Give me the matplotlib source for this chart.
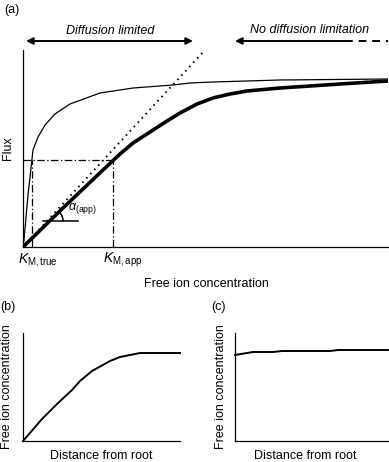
import matplotlib
matplotlib.use('Agg')
import matplotlib.pyplot as plt
from matplotlib.patches import Arc

plt.rcParams['font.family'] = ['Liberation Sans', 'DejaVu Sans']
plt.rcParams['mathtext.fontset'] = 'custom'
plt.rcParams['mathtext.rm'] = 'Liberation Sans'
plt.rcParams['mathtext.it'] = 'Liberation Sans:italic'

## data (arbitrary units)
# panel (a): flux vs free ion concentration
true_x = [0, 1, 5, 10, 15, 22, 32, 47, 77, 110, 150, 167, 190, 257, 365]
true_y = [0, 7, 52, 97, 110, 122, 133, 143, 154, 159, 162, 164, 165, 167, 168]
app_x = [0, 40, 80, 97, 110, 127, 144, 157, 174, 190, 207, 224, 257, 317, 365]
app_y = [0, 39, 77, 93, 104, 115, 126, 134, 143, 149, 153, 156, 159, 163, 166]
slope_x = [0, 182]
slope_y = [0, 197]
km_true = 9
km_app = 90
half_flux = 87

# panel (b): diffusion limited profile
dist_b = [0, 19, 34, 49, 57, 69, 87, 97, 117, 157]
conc_b = [0, 22, 37, 51, 60, 70, 80, 84, 88, 88]
# panel (c): no diffusion limitation
dist_c = [0, 18, 38, 47, 95, 103, 153]
conc_c = [86, 89, 89, 90, 90, 91, 91]

W, H = 389, 462
fig = plt.figure(figsize=(W / 100, H / 100), dpi=100)


def box(left, top, right, bottom):
    # pixel box -> figure fraction
    return [left / W, 1 - bottom / H, (right - left) / W, (bottom - top) / H]


def ftext(x, y, s, **kw):
    fig.text(x / W, 1 - y / H, s, ha='center', va='center', **kw)


def frame(ax):
    for side in ['top', 'right']:
        ax.spines[side].set_visible(False)
    for side in ['left', 'bottom']:
        ax.spines[side].set_linewidth(0.9)
    ax.set_xticks([])
    ax.set_yticks([])


## panel (a)
ax = fig.add_axes(box(23, 50, 388, 247))
frame(ax)
ax.set_xlim(0, 365)
ax.set_ylim(0, 197)
ax.plot(true_x, true_y, color='black', lw=0.9, solid_joinstyle='round')
ax.plot(app_x, app_y, color='black', lw=2.6, solid_capstyle='round',
        solid_joinstyle='round')
ax.plot(slope_x, slope_y, color='black', lw=1.4, linestyle=(0, (0.8, 2.2)), clip_on=False)
dashdot = (0, (6, 2, 1, 2))
ax.plot([0, km_app], [half_flux, half_flux], color='black', lw=0.9, linestyle=dashdot)
ax.plot([km_true, km_true], [0, half_flux], color='black', lw=0.9, linestyle=dashdot)
ax.plot([km_app, km_app], [0, half_flux], color='black', lw=0.9, linestyle=dashdot)

# angle alpha
ax.plot([20, 55], [26, 26], color='black', lw=1.1)
ax.add_patch(Arc((27, 26), 26, 26, theta1=0, theta2=45, color='black', lw=1.1))
ax.text(45, 37, r'$\alpha_{\rm (app)}$', fontsize=9)

# arrows above the axes
ax.annotate('', xy=(3, 206), xytext=(170, 206), annotation_clip=False,
            arrowprops=dict(arrowstyle='<|-|>', color='black', lw=1.4,
                            mutation_scale=10, shrinkA=0, shrinkB=0))
ax.annotate('', xy=(212, 206), xytext=(322, 206), annotation_clip=False,
            arrowprops=dict(arrowstyle='-|>', color='black', lw=1.4,
                            mutation_scale=10, shrinkA=0, shrinkB=0))
ax.plot([322, 365], [206, 206], color='black', lw=1.4, linestyle=(0, (4, 3)), clip_on=False)

ftext(110, 31, 'Diffusion limited', fontsize=9, style='italic')
ftext(310, 30, 'No diffusion limitation', fontsize=9, style='italic')
ftext(12, 10, '(a)', fontsize=9)
ftext(8, 148, 'Flux', fontsize=9, rotation=90)
ftext(38, 260, r'$K_{\rm M,true}$', fontsize=10)
ftext(123, 260, r'$K_{\rm M,app}$', fontsize=10)
ftext(206, 284, 'Free ion concentration', fontsize=9)

## panel (b)
axb = fig.add_axes(box(23, 333, 180, 441))
frame(axb)
axb.set_xlim(0, 157)
axb.set_ylim(0, 108)
axb.plot(dist_b, conc_b, color='black', lw=1.4, clip_on=False)
ftext(8, 307, '(b)', fontsize=9)
ftext(7, 387, 'Free ion concentration', fontsize=9, rotation=90)
ftext(101, 456, 'Distance from root', fontsize=9)

## panel (c)
axc = fig.add_axes(box(235, 333, 388, 441))
frame(axc)
axc.set_xlim(0, 153)
axc.set_ylim(0, 108)
axc.plot(dist_c, conc_c, color='black', lw=1.4, clip_on=False)
ftext(219, 307, '(c)', fontsize=9)
ftext(221, 387, 'Free ion concentration', fontsize=9, rotation=90)
ftext(305, 456, 'Distance from root', fontsize=9)

fig.savefig('out.png', dpi=100)
